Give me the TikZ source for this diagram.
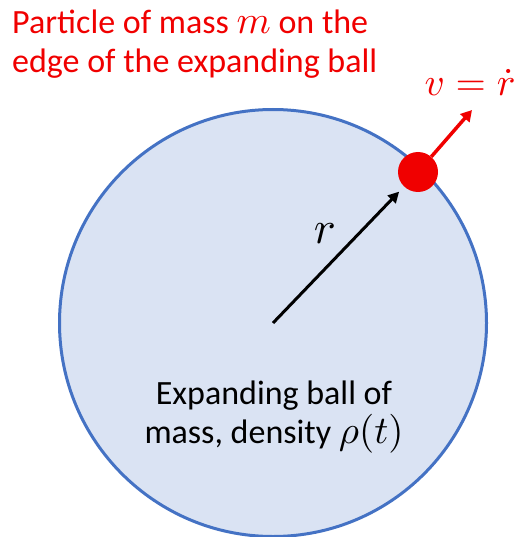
\documentclass[tikz,border=0pt]{standalone}
\usepackage{fontspec}
\setmainfont{Carlito}
\DeclareFontFamily{OML}{cmm}{\skewchar\font127 }
\DeclareFontShape{OML}{cmm}{m}{it}{<->cmmi10}{}
\DeclareFontShape{OT1}{cmr}{m}{n}{<->cmr10}{}
\DeclareFontFamily{OMS}{cmsy}{\skewchar\font48 }
\DeclareFontShape{OMS}{cmsy}{m}{n}{<->cmsy10}{}
\newcommand{\mth}[1]{{\fontsize{39}{39}\selectfont$#1$}}
\usetikzlibrary{arrows.meta}
\definecolor{ballfill}{HTML}{DAE3F3}
\definecolor{ballline}{HTML}{4472C4}
\definecolor{pred}{HTML}{F00000}
\tikzset{
  ball/.style={circle, draw=ballline, fill=ballfill, line width=3pt, minimum size=427pt, inner sep=0pt},
  particle/.style={circle, fill=pred, minimum size=40pt, inner sep=0pt},
  lbl/.style={font=\fontsize{34}{39}\selectfont, align=left, inner sep=0pt},
  radius arrow/.style={line width=3pt, -{Triangle[length=11pt,width=11pt]}},
  vel arrow/.style={line width=3.5pt, draw=pred, -{Triangle[length=11pt,width=12pt]}}
}
\begin{document}
\begin{tikzpicture}[x=1pt,y=-1pt]
\useasboundingbox (0,0) rectangle (524,537);
\node[ball] (ball) at (273,323) {};
\coordinate (ctr) at (273,323);
\node[particle] (dot) at (418,172) {};
\coordinate (vtip) at (472,110);
\draw[radius arrow] (ctr) -- (dot) [shorten >=7pt];
\draw[vel arrow] (dot) -- (vtip);
\node[lbl, text=pred, anchor=west] (title) at (12,44) {Particle of mass \mth{m} on the\\edge of the expanding ball};
\node[lbl, text=pred, anchor=center] (vlabel) at (470,82) {\mth{v=\dot r}};
\node[lbl, anchor=center] (rlabel) at (325,234) {{\fontsize{46}{46}\selectfont$r$}};
\node[lbl, align=center, anchor=center] (balltext) at (274,417) {Expanding ball of\\mass, density \mth{\rho(t)}};
\end{tikzpicture}
\end{document}
